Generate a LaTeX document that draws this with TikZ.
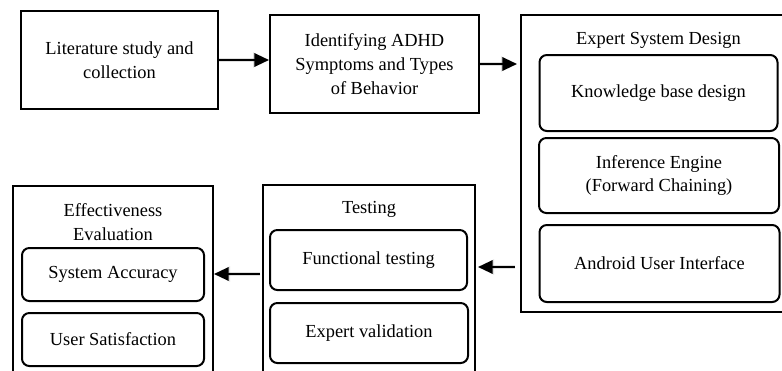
\documentclass[tikz,border=0pt]{standalone}
\usepackage{fontspec}
\setmainfont{Liberation Serif}
\usetikzlibrary{arrows.meta,positioning}
\tikzset{
  txt/.style={font=\fontsize{13.8}{18}\selectfont, align=center, inner sep=0pt},
  sqbox/.style={draw, line width=1.5pt, inner sep=0pt, txt},
  rbox/.style={draw, line width=1.5pt, rounded corners=5.5pt, inner sep=0pt, txt},
  flow/.style={line width=1.6pt, -{Triangle[length=11pt,width=10pt]}},
  flowshadow/.style={line width=2.6pt, draw=black, opacity=0.12, -{Triangle[length=12pt,width=11pt]}},
}
\begin{document}
\begin{tikzpicture}[x=0.75pt,y=-0.75pt]
\clip (0,0) rectangle (782,371);
\fill[white] (0,0) rectangle (782,371);
% top row
\node[sqbox, minimum width=197*0.75pt, minimum height=98*0.75pt] (lit) at (119.5,60) {Literature study and\\collection};
\node[sqbox, minimum width=209*0.75pt, minimum height=98*0.75pt] (ident) at (374.5,64) {Identifying ADHD\\Symptoms and Types\\of Behavior};
% expert system design
\node[draw, line width=1.5pt, minimum width=262*0.75pt, minimum height=297*0.75pt, inner sep=0pt] (esd) at (652,163.5) {};
\node[txt] (esdt) at (658.5,40) {Expert System Design};
\node[rbox, minimum width=238*0.75pt, minimum height=76*0.75pt] (kb) at (658.5,93) {Knowledge base design};
\node[rbox, minimum width=240*0.75pt, minimum height=75*0.75pt] (ie) at (659,175.5) {\raisebox{-3pt}{\shortstack{Inference Engine\\[1pt](Forward Chaining)}}};
\node[rbox, minimum width=240*0.75pt, minimum height=77*0.75pt] (ui) at (659.5,263.5) {Android User Interface};
% testing
\node[draw, line width=1.5pt, minimum width=212*0.75pt, minimum height=210*0.75pt, inner sep=0pt] (test) at (369,290) {};
\node[txt] (testt) at (369,209) {Testing};
\node[rbox, minimum width=197*0.75pt, minimum height=60*0.75pt] (ft) at (368.5,260) {Functional testing};
\node[rbox, minimum width=198*0.75pt, minimum height=60*0.75pt] (ev) at (369,333) {Expert validation};
% effectiveness
\node[draw, line width=1.5pt, minimum width=200*0.75pt, minimum height=210*0.75pt, inner sep=0pt] (eff) at (113,291) {};
\node[txt] (efft) at (113,222) {Effectiveness\\Evaluation};
\node[rbox, minimum width=182*0.75pt, minimum height=53*0.75pt] (sa) at (113,274.5) {System Accuracy};
\node[rbox, minimum width=182*0.75pt, minimum height=53*0.75pt] (us) at (113,339.5) {User Satisfaction};
% connector end points
\coordinate (a2e) at (517,64);
\coordinate (a3s) at (515,267);
\coordinate (a3e) at (478,267);
\coordinate (a4s) at (260,274);
% shadows
\begin{scope}[shift={(1.5,2.5)}]
\draw[flowshadow] (lit.east) -- (ident.west |- lit.east);
\draw[flowshadow] (ident.east) -- (a2e);
\draw[flowshadow] (a3s) -- (a3e);
\draw[flowshadow] (a4s) -- (eff.east |- a4s);
\end{scope}
% arrows
\draw[flow] (lit.east) -- (ident.west |- lit.east);
\draw[flow] (ident.east) -- (a2e);
\draw[flow] (a3s) -- (a3e);
\draw[flow] (a4s) -- (eff.east |- a4s);
\end{tikzpicture}
\end{document}
